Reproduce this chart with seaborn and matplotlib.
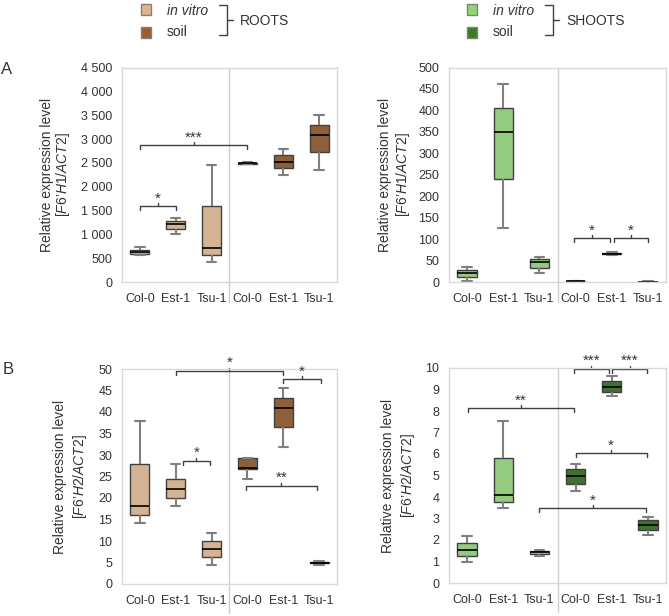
import numpy as np
import pandas as pd
import matplotlib.pyplot as plt
import matplotlib.lines as mlines
import matplotlib.patches as mpatches
import seaborn as sns

# =========================
# Data (five values per box: min, q1, median, q3, max)
# =========================

genotypes = ["Col-0", "Est-1", "Tsu-1"]
conditions = ["in vitro", "soil"]

h1_roots_vitro = [[560, 580, 620, 670, 735], [1015, 1120, 1225, 1290, 1345], [430, 570, 720, 1590, 2460]]
h1_roots_soil = [[2470, 2480, 2490, 2500, 2520], [2250, 2390, 2520, 2670, 2800], [2360, 2720, 3080, 3290, 3500]]
h1_shoots_vitro = [[3, 12, 22, 29, 35], [127, 239, 350, 406, 461], [20, 33, 47, 53, 59]]
h1_shoots_soil = [[1.5, 1.8, 2, 2.2, 2.5], [63, 64.5, 66, 67, 69], [0.4, 0.6, 0.8, 1, 1.2]]

h2_roots_vitro = [[14.2, 16.1, 18.1, 27.9, 37.8], [18.1, 20.0, 22.1, 24.4, 28.0], [4.5, 6.2, 8.1, 10.0, 11.8]]
h2_roots_soil = [[24.4, 26.8, 27.0, 29.3, 29.4], [31.8, 36.4, 40.9, 43.2, 45.5], [4.5, 4.8, 5.0, 5.2, 5.4]]
h2_shoots_vitro = [[0.98, 1.24, 1.55, 1.87, 2.19], [3.5, 3.78, 4.07, 5.8, 7.53], [1.24, 1.34, 1.43, 1.51, 1.55]]
h2_shoots_soil = [[4.26, 4.62, 5.0, 5.29, 5.55], [8.69, 8.9, 9.11, 9.38, 9.64], [2.22, 2.46, 2.72, 2.92, 3.08]]

# significance brackets: (from slot, to slot, height, label)
sig_h1_roots = [(0, 1, 1590, "*"), (0, 3, 2870, "***")]
sig_h1_shoots = [(2.95, 3.95, 102, "*"), (4.05, 5.0, 102, "*")]
sig_h2_roots = [(1.0, 4.0, 49.6, "*"), (4.0, 5.05, 47.7, "*"), (1.2, 1.95, 28.7, "*"), (2.95, 4.95, 22.9, "**")]
sig_h2_shoots = [(2.95, 3.92, 9.97, "***"), (4.02, 4.97, 9.97, "***"), (0.03, 2.95, 8.13, "**"),
                 (3.0, 4.97, 6.05, "*"), (2.0, 4.95, 3.48, "*")]

roots_colors = ["#DFB48A", "#9C5F2C"]
shoots_colors = ["#8ED873", "#3B7D23"]

# =========================
# Style
# =========================

sns.set_style("white")
plt.rcParams["font.family"] = ["Liberation Sans", "DejaVu Sans"]
plt.rcParams["mathtext.fontset"] = "custom"
plt.rcParams["mathtext.rm"] = "Liberation Sans"
plt.rcParams["mathtext.it"] = "Liberation Sans:italic"

text_color = "#333333"
W, H = 669, 616

fig = plt.figure(figsize=(W / 100, H / 100), dpi=100)


def px_axes(left, top, right, bottom):
    return fig.add_axes([left / W, 1 - bottom / H, (right - left) / W, (bottom - top) / H])


def build_frame(vitro, soil):
    rows = []
    for cond, groups in zip(conditions, [vitro, soil]):
        for g, vals in zip(genotypes, groups):
            for v in vals:
                rows.append({"slot": g + " " + cond, "condition": cond, "value": v})
    return pd.DataFrame(rows)


def bracket(ax, x1, x2, y, label, top):
    u = top / 214
    xm = (x1 + x2) / 2
    ax.plot([x1, x1, x2, x2], [y - 4 * u, y, y, y - 4 * u], color="#404040", lw=1, clip_on=False)
    ax.plot([xm, xm], [y, y + 3 * u], color="#404040", lw=1, clip_on=False)
    ax.text(xm, y + 0.5 * u, label, ha="center", va="bottom", fontsize=11, color=text_color, clip_on=False)


def draw_panel(ax, vitro, soil, colors, top, step, gene, sigs, lab_x, div_low):
    df = build_frame(vitro, soil)
    order = [g + " " + c for c in conditions for g in genotypes]
    sns.boxplot(data=df, x="slot", y="value", hue="condition", order=order, hue_order=conditions,
                palette=dict(zip(conditions, colors)), dodge=False, width=0.53, whis=(0, 100),
                linecolor="#404040", linewidth=1, fliersize=0, legend=False, ax=ax,
                whiskerprops={"color": "#7F7F7F", "linewidth": 1.5},
                capprops={"color": "#7F7F7F", "linewidth": 1.5},
                medianprops={"color": "black", "linewidth": 1.2})
    ax.set_xlim(-0.5, 5.5)
    ax.set_ylim(0, top)
    ticks = np.arange(0, top + step / 2, step)
    ax.set_yticks(ticks)
    if top >= 1000:
        ax.set_yticklabels([f"{int(t):,}".replace(",", " ") for t in ticks])
    else:
        ax.set_yticklabels([f"{int(t)}" for t in ticks])
    ax.set_xticks(range(6))
    ax.set_xticklabels(genotypes * 2)
    ax.tick_params(length=0, labelsize=9, labelcolor=text_color)
    ax.tick_params(axis="x", pad=8)
    ax.tick_params(axis="y", pad=7)
    ax.set_xlabel("")
    ax.set_ylabel("")
    for s in ax.spines.values():
        s.set_color("#D9D9D9")
        s.set_linewidth(1)
    ax.axvline(2.5, ymin=div_low, ymax=1, color="#CFCFCF", lw=1, clip_on=False, zorder=0)
    ax.text(lab_x[0], 0.5, "Relative expression level", rotation=90, ha="center", va="center",
            fontsize=10, color=text_color, transform=ax.transAxes)
    ax.text(lab_x[1], 0.5, "[$\\mathit{F6}$’$\\mathit{" + gene + "/ACT2}$]", rotation=90, ha="center",
            va="center", fontsize=10, color=text_color, transform=ax.transAxes)
    for x1, x2, y, label in sigs:
        bracket(ax, x1, x2, y, label, top)


ax1 = px_axes(122, 67.5, 337, 282)
ax2 = px_axes(449, 67.5, 666, 282)
ax3 = px_axes(122, 369, 337, 584)
ax4 = px_axes(449, 368, 666, 583)

draw_panel(ax1, h1_roots_vitro, h1_roots_soil, roots_colors, 4500, 500, "H1", sig_h1_roots, (-0.35, -0.275), -0.095)
draw_panel(ax2, h1_shoots_vitro, h1_shoots_soil, shoots_colors, 500, 50, "H1", sig_h1_shoots, (-0.295, -0.212), -0.095)
draw_panel(ax3, h2_roots_vitro, h2_roots_soil, roots_colors, 50, 5, "H2", sig_h2_roots, (-0.288, -0.195), -0.135)
draw_panel(ax4, h2_shoots_vitro, h2_shoots_soil, shoots_colors, 10, 1, "H2", sig_h2_shoots, (-0.28, -0.19), -0.135)

# panel letters
fig.text(7 / W, 1 - 69 / H, "A", fontsize=12, color=text_color, ha="center", va="center")
fig.text(8 / W, 1 - 370 / H, "B", fontsize=12, color=text_color, ha="center", va="center")

# =========================
# Custom legend
# =========================


def fx(x):
    return x / W


def fy(y):
    return 1 - y / H


def legend_block(x0, colors, title):
    for (cond, col), (ytop, ytext) in zip(zip(conditions, colors), [(4, 11), (27, 32)]):
        fig.add_artist(mpatches.Rectangle((fx(x0), fy(ytop + 11)), 10 / W, 11 / H, facecolor=col,
                                          edgecolor="#808080", lw=1, transform=fig.transFigure))
        fig.text(fx(x0 + 26), fy(ytext), cond, fontsize=10, color=text_color, va="center",
                 style="italic" if cond == "in vitro" else "normal")
    bx0, bx1 = x0 + 78, x0 + 86
    fig.add_artist(mlines.Line2D([fx(bx0), fx(bx1), fx(bx1), fx(bx0)], [fy(5), fy(5), fy(35), fy(35)],
                                 color="#404040", lw=1, transform=fig.transFigure))
    fig.add_artist(mlines.Line2D([fx(bx1), fx(bx1 + 6)], [fy(20), fy(20)],
                                 color="#404040", lw=1, transform=fig.transFigure))
    fig.text(fx(x0 + 99), fy(21), title, fontsize=10, color=text_color, va="center")


legend_block(141, roots_colors, "ROOTS")
legend_block(467, shoots_colors, "SHOOTS")

fig.savefig("out.png", dpi=100)
